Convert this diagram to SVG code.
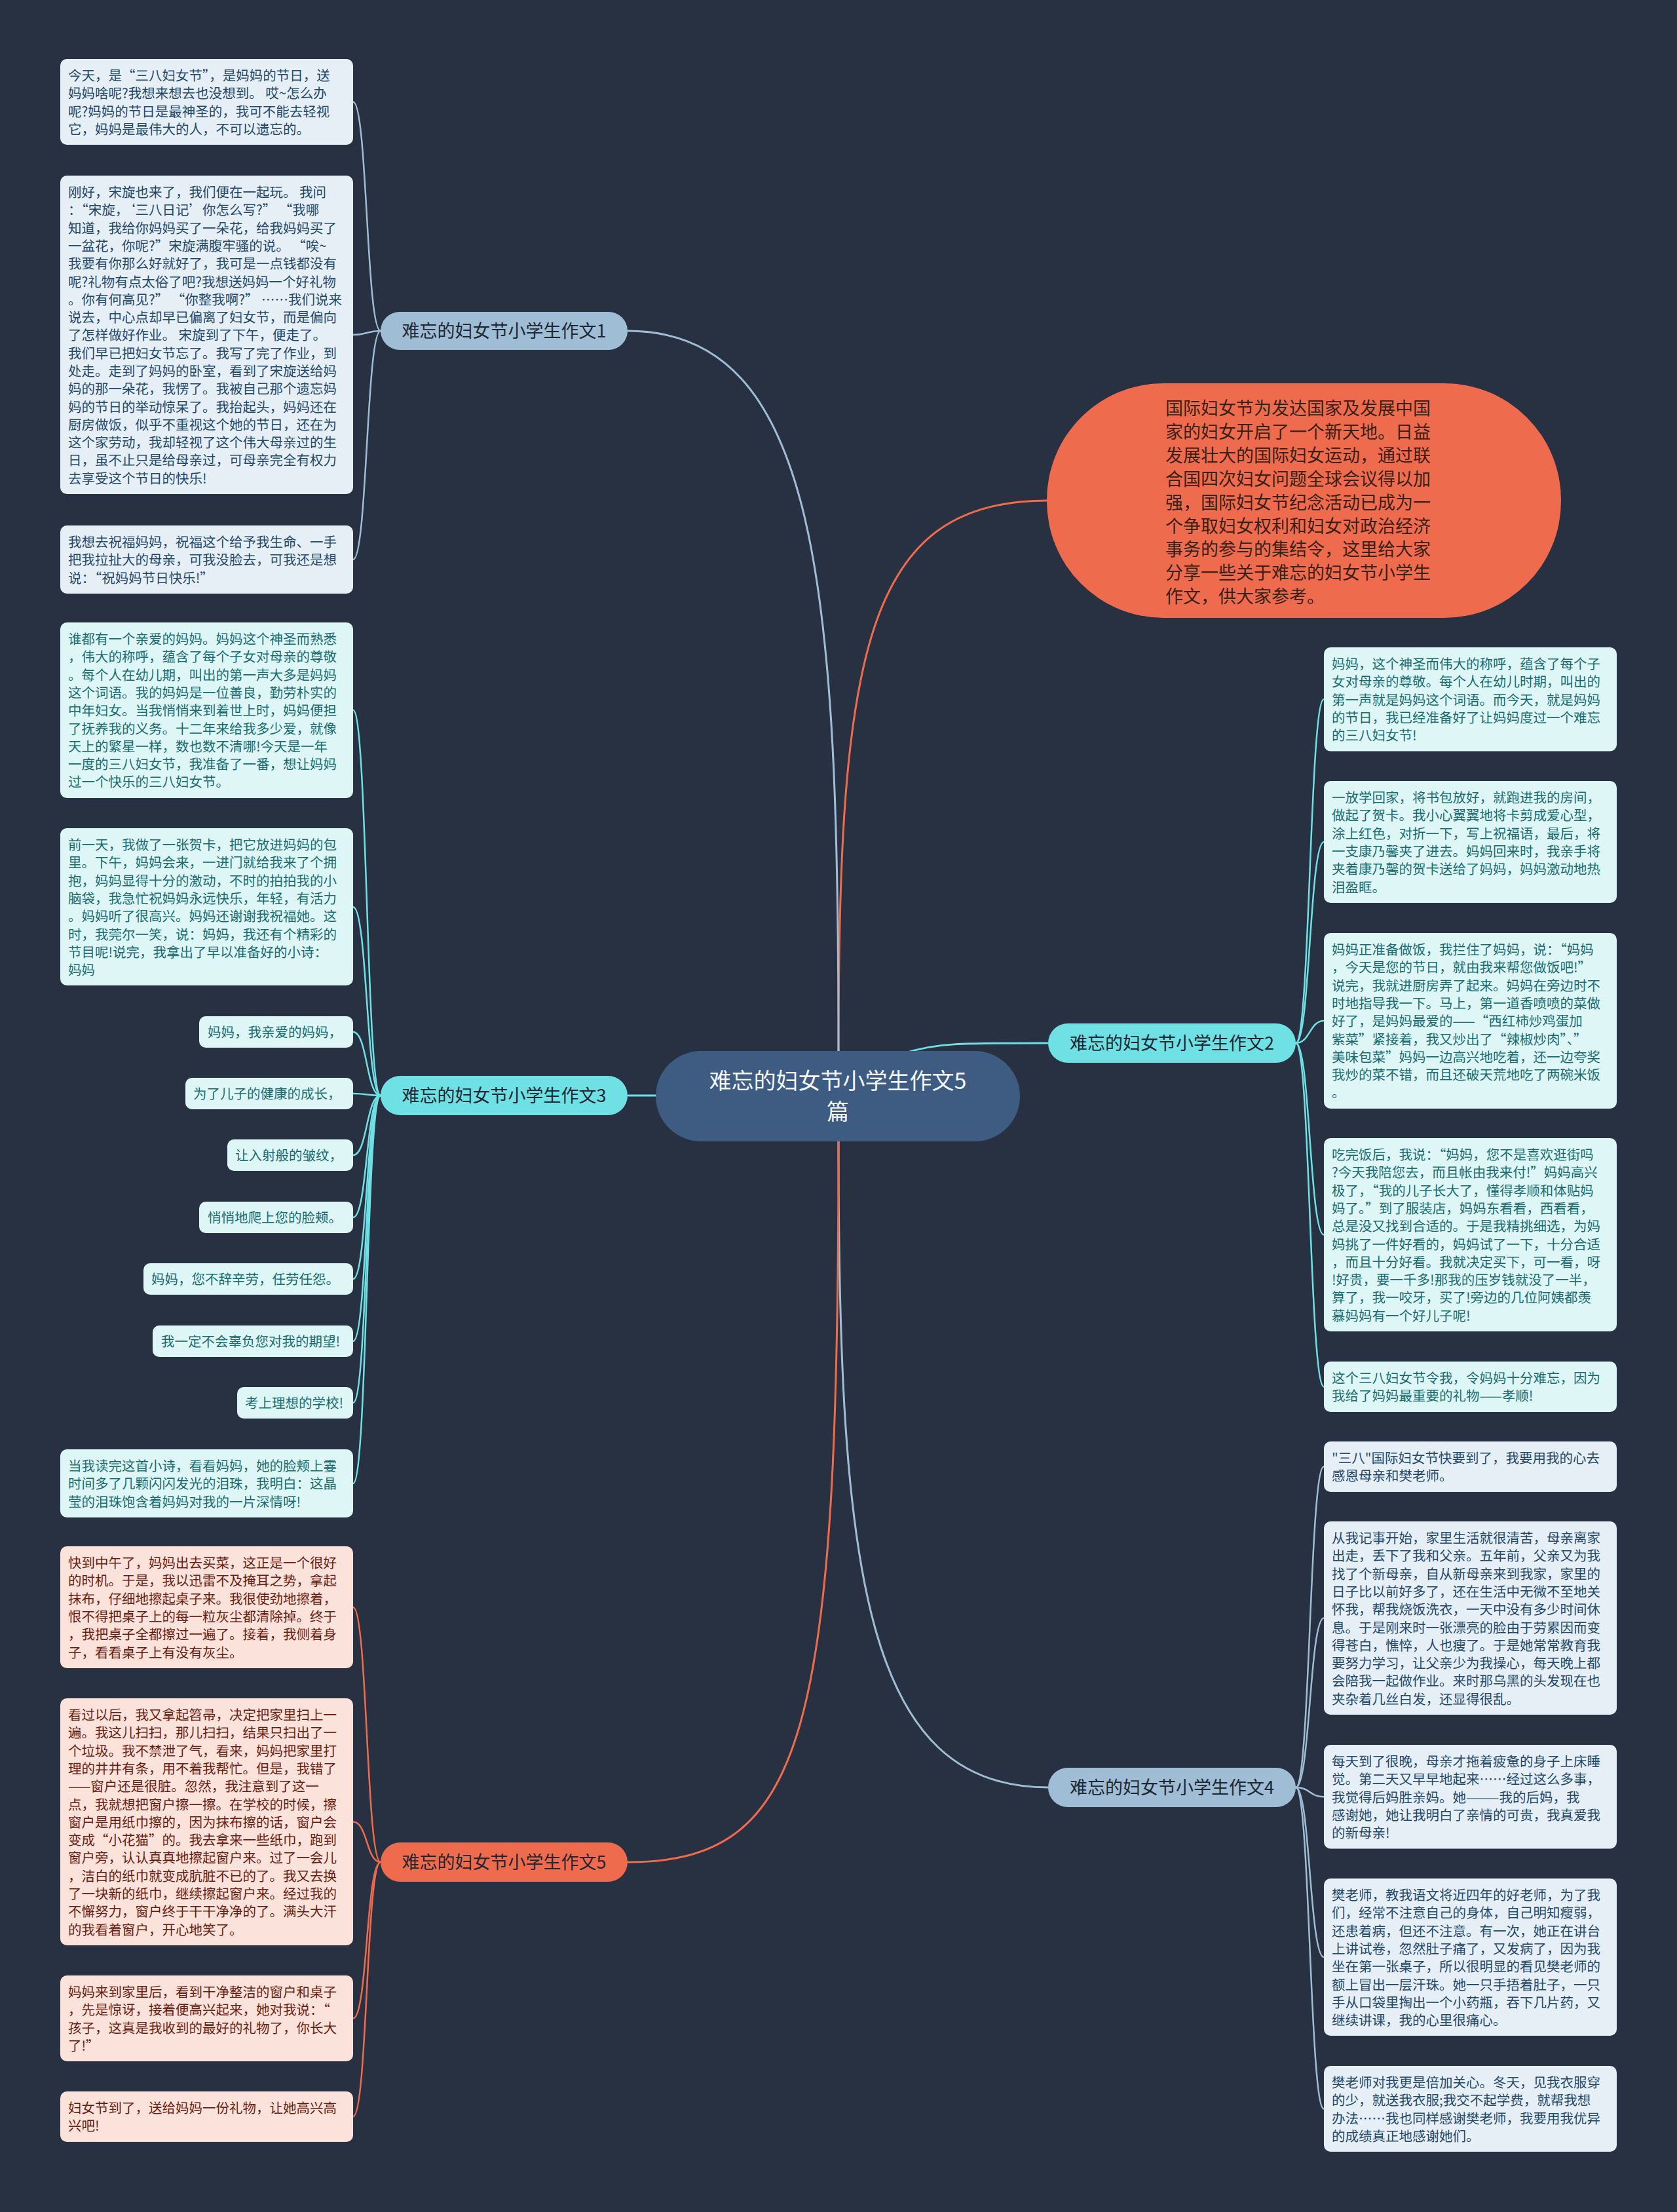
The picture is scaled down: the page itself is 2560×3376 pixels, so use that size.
<svg xmlns="http://www.w3.org/2000/svg" width="2560" height="3376" viewBox="0 0 2560 3376">
<style>
text{font-family:"Noto Sans CJK SC","Noto Sans",sans-serif}
.tx{font-size:20.5px}
.c1{fill:#e7eff6}.t1{fill:#22486a}
.c2{fill:#dff6f7}.t2{fill:#176c70}
.c5{fill:#fbe2da}.t5{fill:#6a1c10}
.lk{fill:none;stroke-linecap:round}
.lb{stroke:#9fbdd5}.lc{stroke:#6fe0e4}.lo{stroke:#ee6c4d}
.main{stroke-width:3}.sub{stroke-width:2.5}
.bt{font-size:27px;fill:#1d2733;text-anchor:middle}
</style>
<rect width="2560" height="3376" fill="#273142"/>
<g id="connectors">
<path class="lk lo main" d="M1280,1604 C1280,1000 1320,764 1598,764"/>
<path class="lk lb main" d="M1280,1604 C1280,900 1250,505 958,505"/>
<path class="lk lc main" d="M1382,1607 C1430,1592 1460,1592 1600,1592"/>
<path class="lk lc main" d="M1100,1672 L959,1672"/>
<path class="lk lb main" d="M1280,1742 C1280,2400 1320,2728 1600,2728"/>
<path class="lk lo main" d="M1280,1742 C1280,2650 1230,2842 958,2842"/>
<path class="lk lb sub" d="M581,505 C559,505 561,155.6 539,155.6"/>
<path class="lk lb sub" d="M581,505 C559,505 561,511 539,511"/>
<path class="lk lb sub" d="M581,505 C559,505 561,854 539,854"/>
<path class="lk lc sub" d="M581,1672 C559,1672 561,1083.8 539,1083.8"/>
<path class="lk lc sub" d="M581,1672 C559,1672 561,1384.2 539,1384.2"/>
<path class="lk lc sub" d="M581,1672 C559,1672 561,1575 539,1575"/>
<path class="lk lc sub" d="M581,1672 C559,1672 561,1669 539,1669"/>
<path class="lk lc sub" d="M581,1672 C559,1672 561,1763 539,1763"/>
<path class="lk lc sub" d="M581,1672 C559,1672 561,1858 539,1858"/>
<path class="lk lc sub" d="M581,1672 C559,1672 561,1952 539,1952"/>
<path class="lk lc sub" d="M581,1672 C559,1672 561,2047 539,2047"/>
<path class="lk lc sub" d="M581,1672 C559,1672 561,2141 539,2141"/>
<path class="lk lc sub" d="M581,1672 C559,1672 561,2264 539,2264"/>
<path class="lk lo sub" d="M581,2842 C559,2842 561,2452.9 539,2452.9"/>
<path class="lk lo sub" d="M581,2842 C559,2842 561,2780.5 539,2780.5"/>
<path class="lk lo sub" d="M581,2842 C559,2842 561,3080.6 539,3080.6"/>
<path class="lk lo sub" d="M581,2842 C559,2842 561,3230.3 539,3230.3"/>
<path class="lk lc sub" d="M1978,1592 C2000,1592 1999,1067.3 2021,1067.3"/>
<path class="lk lc sub" d="M1978,1592 C2000,1592 1999,1284.9 2021,1284.9"/>
<path class="lk lc sub" d="M1978,1592 C2000,1592 1999,1557.9 2021,1557.9"/>
<path class="lk lc sub" d="M1978,1592 C2000,1592 1999,1884.5 2021,1884.5"/>
<path class="lk lc sub" d="M1978,1592 C2000,1592 1999,2116.3 2021,2116.3"/>
<path class="lk lb sub" d="M1978,2728 C2000,2728 1999,2238.3 2021,2238.3"/>
<path class="lk lb sub" d="M1978,2728 C2000,2728 1999,2469.5 2021,2469.5"/>
<path class="lk lb sub" d="M1978,2728 C2000,2728 1999,2742.3 2021,2742.3"/>
<path class="lk lb sub" d="M1978,2728 C2000,2728 1999,2987.2 2021,2987.2"/>
<path class="lk lb sub" d="M1978,2728 C2000,2728 1999,3218.6 2021,3218.6"/>
</g>

<g id="center">
<rect x="1001" y="1604" width="556" height="138" rx="69" fill="#3e5b82"/>
<text x="1279" y="1662" font-size="34" fill="#f3f6fa" text-anchor="middle">难忘的妇女节小学生作文5</text>
<text x="1279" y="1709" font-size="34" fill="#f3f6fa" text-anchor="middle">篇</text>
</g>

<g id="intro">
<rect x="1598" y="585" width="785" height="358" rx="178" fill="#ee6c4d"/>
<text x="1779" y="633" font-size="27" fill="#3a2016"><tspan x="1779">国际妇女节为发达国家及发展中国</tspan><tspan x="1779" dy="35.9">家的妇女开启了一个新天地。日益</tspan><tspan x="1779" dy="35.9">发展壮大的国际妇女运动，通过联</tspan><tspan x="1779" dy="35.9">合国四次妇女问题全球会议得以加</tspan><tspan x="1779" dy="35.9">强，国际妇女节纪念活动已成为一</tspan><tspan x="1779" dy="35.9">个争取妇女权利和妇女对政治经济</tspan><tspan x="1779" dy="35.9">事务的参与的集结令，这里给大家</tspan><tspan x="1779" dy="35.9">分享一些关于难忘的妇女节小学生</tspan><tspan x="1779" dy="35.9">作文，供大家参考。</tspan></text>
</g>

<g id="branch1">
<rect x="581" y="476" width="377" height="58" rx="29" fill="#9fbdd5"/>
<text class="bt" x="769.5" y="515">难忘的妇女节小学生作文1</text>
</g>
<g id="branch2">
<rect x="1600" y="1562" width="378" height="60" rx="30" fill="#6fe0e4"/>
<text class="bt" x="1789" y="1602">难忘的妇女节小学生作文2</text>
</g>
<g id="branch3">
<rect x="581" y="1642" width="377" height="60" rx="30" fill="#6fe0e4"/>
<text class="bt" x="769.5" y="1682">难忘的妇女节小学生作文3</text>
</g>
<g id="branch4">
<rect x="1600" y="2698" width="378" height="60" rx="30" fill="#9fbdd5"/>
<text class="bt" x="1789" y="2738">难忘的妇女节小学生作文4</text>
</g>
<g id="branch5">
<rect x="581" y="2812" width="377" height="60" rx="30" fill="#ee6c4d"/>
<text class="bt" x="769.5" y="2852">难忘的妇女节小学生作文5</text>
</g>

<g id="b1-n1">
<rect class="c1" x="92" y="90" width="447" height="131" rx="10"/>
<text class="tx t1" x="104" y="123"><tspan x="104">今天，是“三八妇女节”，是妈妈的节日，送</tspan><tspan x="104" dy="27.3">妈妈啥呢?我想来想去也没想到。 哎~怎么办</tspan><tspan x="104" dy="27.3">呢?妈妈的节日是最神圣的，我可不能去轻视</tspan><tspan x="104" dy="27.3">它，妈妈是最伟大的人，不可以遗忘的。</tspan></text>
</g>
<g id="b1-n2">
<rect class="c1" x="92" y="268" width="447" height="486" rx="10"/>
<text class="tx t1" x="104" y="301"><tspan x="104">刚好，宋旋也来了，我们便在一起玩。 我问</tspan><tspan x="104" dy="27.3">：“宋旋，‘三八日记’你怎么写?” “我哪</tspan><tspan x="104" dy="27.3">知道，我给你妈妈买了一朵花，给我妈妈买了</tspan><tspan x="104" dy="27.3">一盆花，你呢?”宋旋满腹牢骚的说。 “唉~</tspan><tspan x="104" dy="27.3">我要有你那么好就好了，我可是一点钱都没有</tspan><tspan x="104" dy="27.3">呢?礼物有点太俗了吧?我想送妈妈一个好礼物</tspan><tspan x="104" dy="27.3">。你有何高见?” “你整我啊?” ……我们说来</tspan><tspan x="104" dy="27.3">说去，中心点却早已偏离了妇女节，而是偏向</tspan><tspan x="104" dy="27.3">了怎样做好作业。 宋旋到了下午，便走了。</tspan><tspan x="104" dy="27.3">我们早已把妇女节忘了。我写了完了作业，到</tspan><tspan x="104" dy="27.3">处走。走到了妈妈的卧室，看到了宋旋送给妈</tspan><tspan x="104" dy="27.3">妈的那一朵花，我愣了。我被自己那个遗忘妈</tspan><tspan x="104" dy="27.3">妈的节日的举动惊呆了。我抬起头，妈妈还在</tspan><tspan x="104" dy="27.3">厨房做饭，似乎不重视这个她的节日，还在为</tspan><tspan x="104" dy="27.3">这个家劳动，我却轻视了这个伟大母亲过的生</tspan><tspan x="104" dy="27.3">日，虽不止只是给母亲过，可母亲完全有权力</tspan><tspan x="104" dy="27.3">去享受这个节日的快乐!</tspan></text>
</g>
<g id="b1-n3">
<rect class="c1" x="92" y="802" width="447" height="104" rx="10"/>
<text class="tx t1" x="104" y="835"><tspan x="104">我想去祝福妈妈，祝福这个给予我生命、一手</tspan><tspan x="104" dy="27.3">把我拉扯大的母亲，可我没脸去，可我还是想</tspan><tspan x="104" dy="27.3">说：“祝妈妈节日快乐!”</tspan></text>
</g>

<g id="b3-n1">
<rect class="c2" x="92" y="950" width="447" height="268" rx="10"/>
<text class="tx t2" x="104" y="983"><tspan x="104">谁都有一个亲爱的妈妈。妈妈这个神圣而熟悉</tspan><tspan x="104" dy="27.3">，伟大的称呼，蕴含了每个子女对母亲的尊敬</tspan><tspan x="104" dy="27.3">。每个人在幼儿期，叫出的第一声大多是妈妈</tspan><tspan x="104" dy="27.3">这个词语。我的妈妈是一位善良，勤劳朴实的</tspan><tspan x="104" dy="27.3">中年妇女。当我悄悄来到着世上时，妈妈便担</tspan><tspan x="104" dy="27.3">了抚养我的义务。十二年来给我多少爱，就像</tspan><tspan x="104" dy="27.3">天上的繁星一样，数也数不清哪!今天是一年</tspan><tspan x="104" dy="27.3">一度的三八妇女节，我准备了一番，想让妈妈</tspan><tspan x="104" dy="27.3">过一个快乐的三八妇女节。</tspan></text>
</g>
<g id="b3-n2">
<rect class="c2" x="92" y="1264" width="447" height="240" rx="10"/>
<text class="tx t2" x="104" y="1297"><tspan x="104">前一天，我做了一张贺卡，把它放进妈妈的包</tspan><tspan x="104" dy="27.3">里。下午，妈妈会来，一进门就给我来了个拥</tspan><tspan x="104" dy="27.3">抱，妈妈显得十分的激动，不时的拍拍我的小</tspan><tspan x="104" dy="27.3">脑袋，我急忙祝妈妈永远快乐，年轻，有活力</tspan><tspan x="104" dy="27.3">。妈妈听了很高兴。妈妈还谢谢我祝福她。这</tspan><tspan x="104" dy="27.3">时，我莞尔一笑，说：妈妈，我还有个精彩的</tspan><tspan x="104" dy="27.3">节目呢!说完，我拿出了早以准备好的小诗：</tspan><tspan x="104" dy="27.3">妈妈</tspan></text>
</g>
<g id="b3-n3">
<rect class="c2" x="304" y="1551" width="235" height="48" rx="10"/>
<text class="tx t2" x="317" y="1583">妈妈，我亲爱的妈妈，</text>
</g>
<g id="b3-n4">
<rect class="c2" x="283" y="1645" width="256" height="48" rx="10"/>
<text class="tx t2" x="295" y="1677">为了儿子的健康的成长，</text>
</g>
<g id="b3-n5">
<rect class="c2" x="347" y="1739" width="192" height="48" rx="10"/>
<text class="tx t2" x="359" y="1771">让入射般的皱纹，</text>
</g>
<g id="b3-n6">
<rect class="c2" x="304" y="1834" width="235" height="48" rx="10"/>
<text class="tx t2" x="317" y="1866">悄悄地爬上您的脸颊。</text>
</g>
<g id="b3-n7">
<rect class="c2" x="219" y="1928" width="320" height="48" rx="10"/>
<text class="tx t2" x="231" y="1960">妈妈，您不辞辛劳，任劳任怨。</text>
</g>
<g id="b3-n8">
<rect class="c2" x="233" y="2023" width="306" height="48" rx="10"/>
<text class="tx t2" x="246" y="2055">我一定不会辜负您对我的期望!</text>
</g>
<g id="b3-n9">
<rect class="c2" x="362" y="2117" width="177" height="48" rx="10"/>
<text class="tx t2" x="374" y="2149">考上理想的学校!</text>
</g>
<g id="b3-n10">
<rect class="c2" x="92" y="2212" width="447" height="104" rx="10"/>
<text class="tx t2" x="104" y="2245"><tspan x="104">当我读完这首小诗，看看妈妈，她的脸颊上霎</tspan><tspan x="104" dy="27.3">时间多了几颗闪闪发光的泪珠，我明白：这晶</tspan><tspan x="104" dy="27.3">莹的泪珠饱含着妈妈对我的一片深情呀!</tspan></text>
</g>

<g id="b5-n1">
<rect class="c5" x="92" y="2360" width="447" height="186" rx="10"/>
<text class="tx t5" x="104" y="2393"><tspan x="104">快到中午了，妈妈出去买菜，这正是一个很好</tspan><tspan x="104" dy="27.3">的时机。于是，我以迅雷不及掩耳之势，拿起</tspan><tspan x="104" dy="27.3">抹布，仔细地擦起桌子来。我很使劲地擦着，</tspan><tspan x="104" dy="27.3">恨不得把桌子上的每一粒灰尘都清除掉。终于</tspan><tspan x="104" dy="27.3">，我把桌子全都擦过一遍了。接着，我侧着身</tspan><tspan x="104" dy="27.3">子，看看桌子上有没有灰尘。</tspan></text>
</g>
<g id="b5-n2">
<rect class="c5" x="92" y="2592" width="447" height="377" rx="10"/>
<text class="tx t5" x="104" y="2625"><tspan x="104">看过以后，我又拿起笤帚，决定把家里扫上一</tspan><tspan x="104" dy="27.3">遍。我这儿扫扫，那儿扫扫，结果只扫出了一</tspan><tspan x="104" dy="27.3">个垃圾。我不禁泄了气，看来，妈妈把家里打</tspan><tspan x="104" dy="27.3">理的井井有条，用不着我帮忙。但是，我错了</tspan><tspan x="104" dy="27.3">——窗户还是很脏。忽然，我注意到了这一</tspan><tspan x="104" dy="27.3">点，我就想把窗户擦一擦。在学校的时候，擦</tspan><tspan x="104" dy="27.3">窗户是用纸巾擦的，因为抹布擦的话，窗户会</tspan><tspan x="104" dy="27.3">变成“小花猫”的。我去拿来一些纸巾，跑到</tspan><tspan x="104" dy="27.3">窗户旁，认认真真地擦起窗户来。过了一会儿</tspan><tspan x="104" dy="27.3">，洁白的纸巾就变成肮脏不已的了。我又去换</tspan><tspan x="104" dy="27.3">了一块新的纸巾，继续擦起窗户来。经过我的</tspan><tspan x="104" dy="27.3">不懈努力，窗户终于干干净净的了。满头大汗</tspan><tspan x="104" dy="27.3">的我看着窗户，开心地笑了。</tspan></text>
</g>
<g id="b5-n3">
<rect class="c5" x="92" y="3015" width="447" height="131" rx="10"/>
<text class="tx t5" x="104" y="3048"><tspan x="104">妈妈来到家里后，看到干净整洁的窗户和桌子</tspan><tspan x="104" dy="27.3">，先是惊讶，接着便高兴起来，她对我说：“</tspan><tspan x="104" dy="27.3">孩子，这真是我收到的最好的礼物了，你长大</tspan><tspan x="104" dy="27.3">了!”</tspan></text>
</g>
<g id="b5-n4">
<rect class="c5" x="92" y="3192" width="447" height="77" rx="10"/>
<text class="tx t5" x="104" y="3225"><tspan x="104">妇女节到了，送给妈妈一份礼物，让她高兴高</tspan><tspan x="104" dy="27.3">兴吧!</tspan></text>
</g>

<g id="b2-n1">
<rect class="c2" x="2021" y="988" width="447" height="158.5" rx="10"/>
<text class="tx t2" x="2033" y="1021"><tspan x="2033">妈妈，这个神圣而伟大的称呼，蕴含了每个子</tspan><tspan x="2033" dy="27.3">女对母亲的尊敬。每个人在幼儿时期，叫出的</tspan><tspan x="2033" dy="27.3">第一声就是妈妈这个词语。而今天，就是妈妈</tspan><tspan x="2033" dy="27.3">的节日，我已经准备好了让妈妈度过一个难忘</tspan><tspan x="2033" dy="27.3">的三八妇女节!</tspan></text>
</g>
<g id="b2-n2">
<rect class="c2" x="2021" y="1192" width="447" height="186" rx="10"/>
<text class="tx t2" x="2033" y="1225"><tspan x="2033">一放学回家，将书包放好，就跑进我的房间，</tspan><tspan x="2033" dy="27.3">做起了贺卡。我小心翼翼地将卡剪成爱心型，</tspan><tspan x="2033" dy="27.3">涂上红色，对折一下，写上祝福语，最后，将</tspan><tspan x="2033" dy="27.3">一支康乃馨夹了进去。妈妈回来时，我亲手将</tspan><tspan x="2033" dy="27.3">夹着康乃馨的贺卡送给了妈妈，妈妈激动地热</tspan><tspan x="2033" dy="27.3">泪盈眶。</tspan></text>
</g>
<g id="b2-n3">
<rect class="c2" x="2021" y="1424" width="447" height="268" rx="10"/>
<text class="tx t2" x="2033" y="1457"><tspan x="2033">妈妈正准备做饭，我拦住了妈妈，说：“妈妈</tspan><tspan x="2033" dy="27.3">，今天是您的节日，就由我来帮您做饭吧!”</tspan><tspan x="2033" dy="27.3">说完，我就进厨房弄了起来。妈妈在旁边时不</tspan><tspan x="2033" dy="27.3">时地指导我一下。马上，第一道香喷喷的菜做</tspan><tspan x="2033" dy="27.3">好了，是妈妈最爱的——“西红柿炒鸡蛋加</tspan><tspan x="2033" dy="27.3">紫菜”紧接着，我又炒出了“辣椒炒肉”、”</tspan><tspan x="2033" dy="27.3">美味包菜”妈妈一边高兴地吃着，还一边夸奖</tspan><tspan x="2033" dy="27.3">我炒的菜不错，而且还破天荒地吃了两碗米饭</tspan><tspan x="2033" dy="27.3">。</tspan></text>
</g>
<g id="b2-n4">
<rect class="c2" x="2021" y="1737" width="447" height="295" rx="10"/>
<text class="tx t2" x="2033" y="1770"><tspan x="2033">吃完饭后，我说：“妈妈，您不是喜欢逛街吗</tspan><tspan x="2033" dy="27.3">?今天我陪您去，而且帐由我来付!”妈妈高兴</tspan><tspan x="2033" dy="27.3">极了，“我的儿子长大了，懂得孝顺和体贴妈</tspan><tspan x="2033" dy="27.3">妈了。”到了服装店，妈妈东看看，西看看，</tspan><tspan x="2033" dy="27.3">总是没又找到合适的。于是我精挑细选，为妈</tspan><tspan x="2033" dy="27.3">妈挑了一件好看的，妈妈试了一下，十分合适</tspan><tspan x="2033" dy="27.3">，而且十分好看。我就决定买下，可一看，呀</tspan><tspan x="2033" dy="27.3">!好贵，要一千多!那我的压岁钱就没了一半，</tspan><tspan x="2033" dy="27.3">算了，我一咬牙，买了!旁边的几位阿姨都羡</tspan><tspan x="2033" dy="27.3">慕妈妈有一个好儿子呢!</tspan></text>
</g>
<g id="b2-n5">
<rect class="c2" x="2021" y="2078" width="447" height="77" rx="10"/>
<text class="tx t2" x="2033" y="2111"><tspan x="2033">这个三八妇女节令我，令妈妈十分难忘，因为</tspan><tspan x="2033" dy="27.3">我给了妈妈最重要的礼物——孝顺!</tspan></text>
</g>

<g id="b4-n1">
<rect class="c1" x="2021" y="2200" width="447" height="77" rx="10"/>
<text class="tx t1" x="2033" y="2233"><tspan x="2033">"三八"国际妇女节快要到了，我要用我的心去</tspan><tspan x="2033" dy="27.3">感恩母亲和樊老师。</tspan></text>
</g>
<g id="b4-n2">
<rect class="c1" x="2021" y="2322" width="447" height="295" rx="10"/>
<text class="tx t1" x="2033" y="2355"><tspan x="2033">从我记事开始，家里生活就很清苦，母亲离家</tspan><tspan x="2033" dy="27.3">出走，丢下了我和父亲。五年前，父亲又为我</tspan><tspan x="2033" dy="27.3">找了个新母亲，自从新母亲来到我家，家里的</tspan><tspan x="2033" dy="27.3">日子比以前好多了，还在生活中无微不至地关</tspan><tspan x="2033" dy="27.3">怀我，帮我烧饭洗衣，一天中没有多少时间休</tspan><tspan x="2033" dy="27.3">息。于是刚来时一张漂亮的脸由于劳累因而变</tspan><tspan x="2033" dy="27.3">得苍白，憔悴，人也瘦了。于是她常常教育我</tspan><tspan x="2033" dy="27.3">要努力学习，让父亲少为我操心，每天晚上都</tspan><tspan x="2033" dy="27.3">会陪我一起做作业。来时那乌黑的头发现在也</tspan><tspan x="2033" dy="27.3">夹杂着几丝白发，还显得很乱。</tspan></text>
</g>
<g id="b4-n3">
<rect class="c1" x="2021" y="2663" width="447" height="158.5" rx="10"/>
<text class="tx t1" x="2033" y="2696"><tspan x="2033">每天到了很晚，母亲才拖着疲惫的身子上床睡</tspan><tspan x="2033" dy="27.3">觉。第二天又早早地起来……经过这么多事，</tspan><tspan x="2033" dy="27.3">我觉得后妈胜亲妈。她———我的后妈，我</tspan><tspan x="2033" dy="27.3">感谢她，她让我明白了亲情的可贵，我真爱我</tspan><tspan x="2033" dy="27.3">的新母亲!</tspan></text>
</g>
<g id="b4-n4">
<rect class="c1" x="2021" y="2867" width="447" height="240" rx="10"/>
<text class="tx t1" x="2033" y="2900"><tspan x="2033">樊老师，教我语文将近四年的好老师，为了我</tspan><tspan x="2033" dy="27.3">们，经常不注意自己的身体，自己明知瘦弱，</tspan><tspan x="2033" dy="27.3">还患着病，但还不注意。有一次，她正在讲台</tspan><tspan x="2033" dy="27.3">上讲试卷，忽然肚子痛了，又发病了，因为我</tspan><tspan x="2033" dy="27.3">坐在第一张桌子，所以很明显的看见樊老师的</tspan><tspan x="2033" dy="27.3">额上冒出一层汗珠。她一只手捂着肚子，一只</tspan><tspan x="2033" dy="27.3">手从口袋里掏出一个小药瓶，吞下几片药，又</tspan><tspan x="2033" dy="27.3">继续讲课，我的心里很痛心。</tspan></text>
</g>
<g id="b4-n5">
<rect class="c1" x="2021" y="3153" width="447" height="131" rx="10"/>
<text class="tx t1" x="2033" y="3186"><tspan x="2033">樊老师对我更是倍加关心。冬天，见我衣服穿</tspan><tspan x="2033" dy="27.3">的少，就送我衣服;我交不起学费，就帮我想</tspan><tspan x="2033" dy="27.3">办法……我也同样感谢樊老师，我要用我优异</tspan><tspan x="2033" dy="27.3">的成绩真正地感谢她们。</tspan></text>
</g>
</svg>
